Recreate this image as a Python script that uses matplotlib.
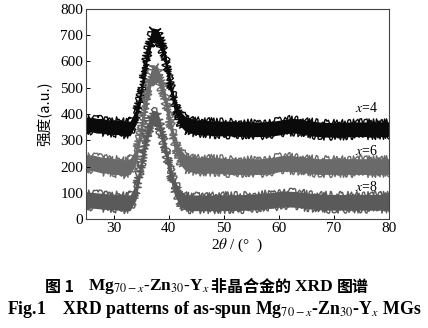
import numpy as np
import matplotlib
matplotlib.use('Agg')
from matplotlib import pyplot as plt

plt.rcParams['font.family'] = ['Liberation Serif']
plt.rcParams['mathtext.fontset'] = 'stix'
CJK = 'Noto Sans CJK SC'

# 2theta sampled every degree, 25..80
two_theta = np.arange(25, 81)

# band centre for each alloy (a.u.)
x4_center = [355, 360, 355, 355, 350, 350, 350, 345, 345,
             385, 480, 620, 700, 695, 650, 540, 440, 385, 362, 355, 350,
             350, 348, 346, 345, 345, 345, 343, 343, 343, 342, 342, 342, 343, 345,
             348, 352, 355, 355, 352, 348, 345,
             342, 340, 340, 340, 340, 340, 342, 342, 342, 342, 342, 342, 342, 342]
x6_center = [210, 215, 210, 205, 205, 200, 200, 195, 200,
             235, 340, 470, 555, 550, 490, 390, 295, 240, 215, 210, 205,
             205, 205, 205, 203, 203, 200, 200, 200, 200, 200, 200, 200, 202, 205,
             210, 212, 212, 210, 208, 205, 203,
             200, 200, 200, 200, 200, 200, 200, 200, 200, 200, 200, 200, 200, 200]
x8_center = [70, 72, 70, 68, 66, 65, 65, 62, 62,
             100, 205, 320, 385, 380, 305, 205, 125, 80, 65, 62, 62,
             62, 62, 62, 62, 63, 63, 63, 63, 64, 65, 66, 68, 70, 72,
             75, 76, 76, 75, 73, 70, 68,
             66, 65, 64, 64, 64, 64, 64, 64, 64, 64, 64, 64, 64, 64]

# noise spread of each trace (half-width of the band)
x4_spread = 28
x6_spread = 30
x8_spread = 30

series = [
    ('$x$=4', x4_center, x4_spread, '#0a0a0a', 422),
    ('$x$=6', x6_center, x6_spread, '#6a6a6a', 260),
    ('$x$=8', x8_center, x8_spread, '#5a5a5a', 124),
]

fig = plt.figure(figsize=(4.28, 3.28), dpi=100)
ax = fig.add_axes([0.201, 0.332, 0.708, 0.641])

for label, center, spread, color, label_y in series:
    center = np.asarray(center, dtype=float)
    ax.fill_between(two_theta, center - spread, center + spread,
                    color=color, linewidth=0)
    # jagged envelope lines so the band reads like a noisy count trace
    for edge in (center - spread, center + spread):
        line, = ax.plot(two_theta, edge, color=color, linewidth=1.0)
        line.set_sketch_params(scale=3, length=1, randomness=2)
    ax.text(78.0, label_y, label, ha='right', va='center', fontsize=10)

ax.set_xlim(25, 80)
ax.set_ylim(0, 800)
ax.set_xticks([30, 40, 50, 60, 70, 80])
ax.set_yticks(range(0, 801, 100))
ax.tick_params(direction='in', length=3, width=0.7, labelsize=11, pad=2)
for spine in ax.spines.values():
    spine.set_linewidth(0.8)
    spine.set_color('#444444')

ax.set_ylabel('强度(a.u.)', fontsize=10.5, labelpad=6, family=[CJK, 'Liberation Serif'])
ax.set_xlabel(r'2$\theta$ / (°  )', fontsize=11, labelpad=1)

# Chinese caption: CJK and Latin runs chained one after another
pieces = [(r'Mg$_{70-x}$-Zn$_{30}$-Y$_{x}$ ', None),
          ('非晶合金的 ', CJK), ('XRD ', None), ('图谱', CJK)]
prev = fig.text(0.105, 0.125, '图 1    ', va='center', ha='left',
                fontsize=11.5, fontweight='bold', family=CJK)
for txt, fam in pieces:
    kw = {'family': fam, 'fontsize': 11.5} if fam else {'fontsize': 12.5}
    prev = ax.annotate(txt, xy=(1, 0.5), xycoords=prev, va='center', ha='left',
                       fontweight='bold', annotation_clip=False, **kw)

fig.text(0.5, 0.055, r'Fig.1    XRD patterns of as-spun Mg$_{70-x}$-Zn$_{30}$-Y$_{x}$ MGs',
         ha='center', va='center', fontsize=12.8, fontweight='bold')

fig.savefig('out.png', dpi=100)
